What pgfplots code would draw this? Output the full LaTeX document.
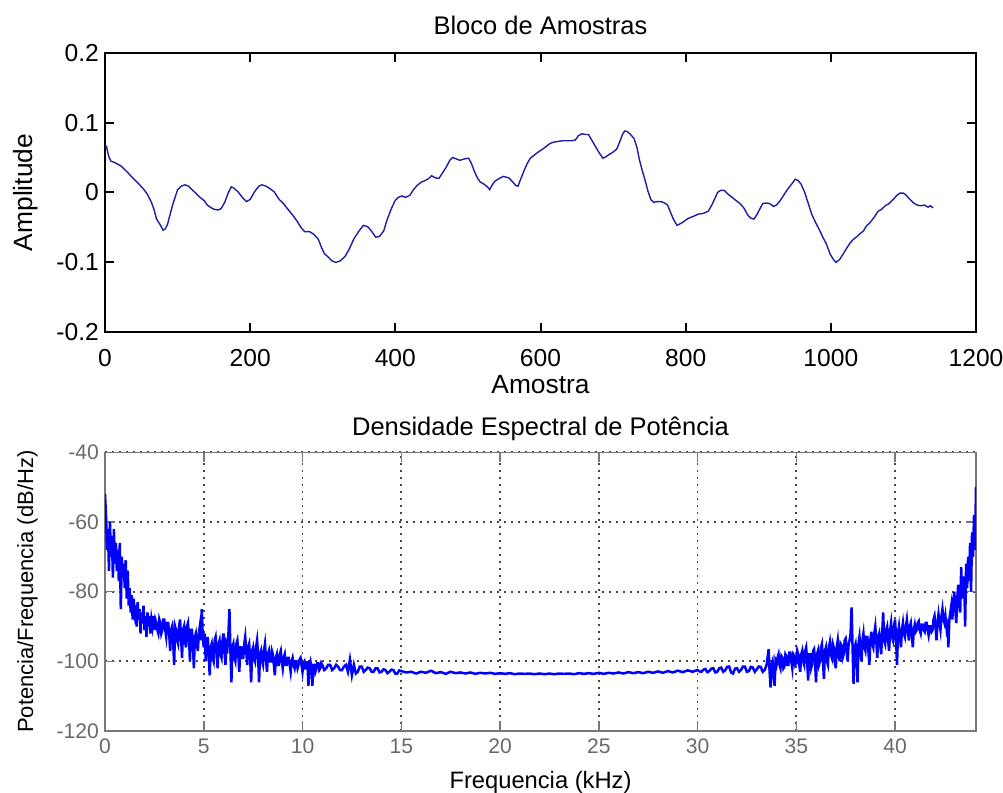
\documentclass[border=0pt]{standalone}
\usepackage{pgfplots}
\pgfplotsset{compat=1.18}
\usepackage{fontspec}
\setmainfont{Liberation Sans}
\definecolor{topblue}{RGB}{30,30,165}
\definecolor{psdblue}{RGB}{0,0,255}
\definecolor{axgray}{RGB}{120,120,120}
\definecolor{lblgray}{RGB}{105,105,105}
\definecolor{gridgray}{RGB}{70,70,70}

\pgfplotstableread{
x y
0 0.065
2 0.066
5 0.052
8 0.045
15 0.042
22 0.038
30 0.030
37 0.022
45 0.014
53 0.005
58 -0.002
64 -0.014
68 -0.026
71 -0.038
76 -0.046
80 -0.054
83 -0.052
86 -0.046
90 -0.030
94 -0.015
100 0.004
105 0.009
110 0.011
115 0.009
120 0.004
126 -0.002
131 -0.007
137 -0.012
141 -0.018
145 -0.021
150 -0.024
156 -0.025
160 -0.023
165 -0.014
170 0.000
174 0.008
178 0.006
184 0.000
190 -0.008
195 -0.013
200 -0.010
206 0.001
212 0.009
216 0.011
222 0.009
228 0.005
233 0.001
240 -0.010
246 -0.016
252 -0.024
259 -0.033
264 -0.040
270 -0.050
275 -0.056
282 -0.056
288 -0.060
294 -0.067
298 -0.078
302 -0.087
308 -0.093
313 -0.098
318 -0.100
324 -0.098
331 -0.091
337 -0.080
343 -0.066
350 -0.055
356 -0.047
362 -0.049
367 -0.055
373 -0.064
378 -0.063
384 -0.055
389 -0.038
395 -0.022
400 -0.011
404 -0.007
409 -0.005
414 -0.007
420 -0.004
425 0.004
430 0.010
436 0.015
441 0.017
446 0.020
450 0.024
455 0.021
460 0.020
465 0.028
470 0.036
475 0.046
479 0.050
484 0.048
489 0.046
495 0.048
501 0.049
505 0.041
509 0.030
513 0.021
517 0.015
522 0.012
527 0.008
530 0.004
533 0.010
537 0.016
543 0.020
549 0.023
556 0.021
561 0.016
566 0.010
569 0.009
573 0.020
578 0.033
582 0.042
586 0.049
592 0.054
597 0.058
603 0.062
608 0.066
613 0.070
618 0.072
624 0.073
630 0.074
636 0.074
642 0.074
648 0.075
652 0.081
657 0.084
662 0.083
666 0.083
670 0.076
675 0.067
680 0.058
686 0.049
690 0.051
694 0.054
699 0.057
705 0.062
709 0.072
713 0.083
716 0.088
720 0.087
724 0.083
729 0.077
733 0.064
736 0.048
740 0.032
744 0.018
748 0.002
752 -0.010
756 -0.014
761 -0.013
766 -0.013
771 -0.015
775 -0.018
779 -0.028
783 -0.038
788 -0.047
792 -0.045
797 -0.042
802 -0.038
806 -0.036
811 -0.034
817 -0.031
824 -0.030
831 -0.027
836 -0.018
840 -0.009
844 0.000
848 0.003
853 0.003
858 -0.002
864 -0.007
870 -0.012
875 -0.016
880 -0.022
886 -0.033
890 -0.037
894 -0.038
898 -0.032
902 -0.024
906 -0.016
911 -0.015
916 -0.016
921 -0.020
925 -0.018
930 -0.012
935 -0.004
940 0.004
946 0.012
951 0.019
955 0.017
959 0.012
964 0.000
969 -0.016
974 -0.032
979 -0.043
984 -0.053
989 -0.064
994 -0.074
999 -0.088
1003 -0.095
1007 -0.100
1012 -0.096
1017 -0.088
1021 -0.081
1026 -0.073
1031 -0.067
1036 -0.063
1040 -0.059
1045 -0.055
1049 -0.048
1054 -0.043
1060 -0.035
1065 -0.027
1070 -0.024
1075 -0.019
1080 -0.016
1086 -0.010
1091 -0.004
1095 -0.001
1100 -0.001
1104 -0.004
1109 -0.010
1114 -0.015
1119 -0.018
1124 -0.019
1129 -0.018
1134 -0.021
1137 -0.019
1141 -0.022
}\amostras

\pgfplotstableread{
x y
0.00 -52
0.05 -58
0.10 -68
0.15 -62
0.20 -74
0.25 -60
0.30 -70
0.35 -64
0.40 -76
0.45 -62
0.50 -72
0.55 -66
0.60 -74
0.65 -68
0.70 -77
0.75 -66
0.80 -85
0.85 -70
0.90 -76
0.95 -72
1.00 -79
1.05 -71
1.10 -82
1.15 -74
1.20 -84
1.25 -79
1.30 -86
1.35 -81
1.40 -88
1.45 -82
1.50 -86
1.55 -84
1.60 -90
1.65 -83
1.70 -88
1.75 -85
1.80 -92
1.85 -86
1.90 -89
1.95 -84
2.00 -91
2.05 -87
2.10 -93
2.15 -86
2.20 -90
2.25 -87
2.30 -92
2.35 -88
2.40 -90
2.45 -87
2.50 -91
2.55 -88
2.60 -89
2.65 -91
2.70 -92
2.75 -88
2.80 -89
2.85 -92
2.90 -91
2.95 -88
3.00 -88
3.05 -91
3.10 -93
3.15 -89
3.20 -89
3.25 -92
3.30 -97
3.35 -91
3.40 -90
3.45 -94
3.50 -101
3.55 -90
3.60 -91
3.65 -94
3.70 -95
3.75 -90
3.80 -88
3.85 -93
3.90 -99
3.95 -91
4.00 -90
4.05 -94
4.10 -96
4.15 -90
4.20 -89
4.25 -93
4.30 -100
4.35 -91
4.40 -91
4.45 -95
4.50 -102
4.55 -93
4.60 -92
4.65 -95
4.70 -97
4.75 -92
4.80 -90
4.85 -94
4.90 -85
4.95 -93
5.00 -96
5.05 -92
5.10 -100
5.15 -95
5.20 -93
5.25 -98
5.30 -104
5.35 -96
5.40 -95
5.45 -99
5.50 -100
5.55 -94
5.60 -93
5.65 -97
5.70 -102
5.75 -95
5.80 -94
5.85 -98
5.90 -99
5.95 -94
6.00 -92
6.05 -97
6.10 -101
6.15 -95
6.20 -96
6.25 -92
6.30 -85
6.35 -97
6.40 -106
6.45 -96
6.50 -95
6.55 -99
6.60 -100
6.65 -95
6.70 -94
6.75 -98
6.80 -103
6.85 -96
6.90 -96
6.95 -99
7.00 -99
7.05 -95
7.10 -93
7.15 -97
7.20 -101
7.25 -96
7.30 -95
7.35 -99
7.40 -106
7.45 -97
7.50 -96
7.55 -99
7.60 -100
7.65 -96
7.70 -94
7.75 -98
7.80 -106
7.85 -98
7.90 -97
7.95 -100
8.00 -101
8.05 -97
8.10 -95
8.15 -99
8.20 -103
8.25 -98
8.30 -97
8.35 -100
8.40 -100
8.45 -97
8.50 -98
8.55 -101
8.60 -104
8.65 -99
8.70 -98
8.75 -101
8.80 -101
8.85 -98
8.90 -97
8.95 -100
9.00 -102
9.05 -99
9.10 -98
9.15 -101
9.20 -101
9.25 -99
9.30 -99
9.35 -101
9.40 -103
9.45 -100
9.50 -99
9.55 -101
9.60 -102
9.65 -100
9.70 -100
9.75 -102
9.80 -101
9.85 -99.5
9.90 -99
9.95 -101
10.00 -103
10.05 -100.5
10.10 -100
10.15 -102
10.20 -102
10.25 -100
10.30 -107
10.35 -101
10.40 -100
10.45 -102
10.50 -107
10.55 -101
10.60 -101
10.65 -103
10.70 -102
10.75 -100.5
10.80 -100.5
10.85 -102.5
10.90 -102
10.95 -100.5
11.00 -101
11.10 -102.5
11.20 -102
11.30 -101
11.40 -101
11.50 -102.5
11.60 -102
11.70 -101
11.80 -101.5
11.90 -102.5
12.00 -102.5
12.10 -101.5
12.20 -101
12.30 -103
12.40 -99.5
12.50 -104
12.60 -101
12.70 -103.5
12.80 -103
12.90 -101.5
13.00 -101.5
13.10 -103
13.20 -102.5
13.30 -101.8
13.40 -102
13.50 -103
13.60 -103
13.70 -102
13.80 -102
13.90 -103.2
14.00 -103
14.10 -102.3
14.20 -102.5
14.30 -103.4
14.40 -103
14.50 -102.4
14.60 -102.5
14.70 -103.5
14.80 -103.5
14.90 -102.6
15.00 -102.8
15.25 -103.2
15.50 -103
15.75 -103.5
16.00 -103
16.25 -103.3
16.50 -102.7
16.75 -103.4
17.00 -103.1
17.25 -103.6
17.50 -103
17.75 -103.4
18.00 -103.2
18.25 -103.5
18.50 -103.2
18.75 -103.6
19.00 -103.3
19.25 -103.5
19.50 -103.3
19.75 -103.6
20.00 -103.4
20.25 -103.6
20.50 -103.4
20.75 -103.7
21.00 -103.5
21.25 -103.6
21.50 -103.5
21.75 -103.7
22.00 -103.5
22.25 -103.7
22.50 -103.5
22.75 -103.7
23.00 -103.5
23.25 -103.6
23.50 -103.5
23.75 -103.7
24.00 -103.4
24.25 -103.6
24.50 -103.4
24.75 -103.6
25.00 -103.3
25.25 -103.6
25.50 -103.3
25.75 -103.5
26.00 -103.2
26.25 -103.5
26.50 -103.1
26.75 -103.4
27.00 -103.1
27.25 -103.4
27.50 -103
27.75 -103.3
28.00 -102.9
28.25 -103.3
28.50 -102.8
28.75 -103.2
29.00 -102.7
29.25 -103.1
29.50 -102.6
29.75 -103
30.00 -102.5
30.10 -102.9
30.20 -103
30.30 -102.4
30.40 -102.2
30.50 -103.1
30.60 -102.8
30.70 -102.1
30.80 -102
30.90 -103.2
31.00 -103
31.10 -102
31.20 -101.8
31.30 -103
31.40 -102.6
31.50 -101.6
31.60 -101.5
31.70 -103.2
31.80 -103.5
31.90 -102.1
32.00 -102
32.10 -103
32.20 -102.5
32.30 -101.5
32.40 -101.5
32.50 -103
32.60 -102.8
32.70 -101.6
32.80 -101.8
32.90 -103
33.00 -102.3
33.10 -101.5
33.20 -101.6
33.30 -103
33.40 -102.5
33.50 -101
33.60 -96.5
33.65 -103
33.70 -107.5
33.75 -101
33.80 -100
33.85 -104
33.90 -107
33.95 -100
34.00 -101
34.05 -99
34.10 -98
34.15 -101
34.20 -102
34.25 -98.5
34.30 -99
34.35 -102
34.40 -101.5
34.45 -98
34.50 -98.5
34.55 -101
34.60 -101
34.65 -97.5
34.70 -97.5
34.75 -100
34.80 -102
34.85 -98
34.90 -98.5
34.95 -101
35.00 -100.5
35.05 -97
35.10 -98
35.15 -101
35.20 -103
35.25 -98
35.30 -97
35.35 -100
35.40 -101
35.45 -97
35.50 -96
35.55 -100
35.60 -105.5
35.65 -98
35.70 -98
35.75 -102
35.80 -101
35.85 -97
35.90 -96.5
35.95 -100
36.00 -106
36.05 -98
36.10 -97
36.15 -101
36.20 -100
36.25 -96
36.30 -95
36.35 -100
36.40 -105
36.45 -97
36.50 -96
36.55 -100
36.60 -101
36.65 -96
36.70 -94.5
36.75 -98
36.80 -99
36.85 -95
36.90 -96
36.95 -100
37.00 -102
37.05 -96
37.10 -94
37.15 -98
37.20 -100
37.25 -95
37.30 -95.5
37.35 -99
37.40 -98
37.45 -94
37.50 -93.5
37.55 -97
37.60 -100
37.65 -95
37.70 -94
37.75 -92
37.80 -84.5
37.85 -96
37.90 -106.5
37.95 -96
38.00 -95
38.05 -99
38.10 -106
38.15 -95
38.20 -93
38.25 -97
38.30 -100
38.35 -94
38.40 -92
38.45 -96
38.50 -97
38.55 -93
38.60 -93
38.65 -97
38.70 -101
38.75 -94
38.80 -91.5
38.85 -95
38.90 -96
38.95 -92
39.00 -90
39.05 -94
39.10 -99
39.15 -93
39.20 -92
39.25 -95
39.30 -98
39.35 -92
39.40 -86
39.45 -94
39.50 -95
39.55 -91
39.60 -90
39.65 -94
39.70 -97
39.75 -91
39.80 -89
39.85 -93
39.90 -94
39.95 -90
40.00 -88
40.05 -93
40.10 -101
40.15 -92
40.20 -90
40.25 -93
40.30 -96
40.35 -91
40.40 -89
40.45 -92
40.50 -93
40.55 -90
40.60 -88
40.65 -91
40.70 -94
40.75 -90
40.80 -89
40.85 -92
40.90 -96
40.95 -91
41.00 -89.5
41.05 -91.5
41.10 -91
41.15 -89
41.20 -88.5
41.25 -91
41.30 -92
41.35 -89.5
41.40 -89.5
41.45 -91
41.50 -91.5
41.55 -89
41.60 -89
41.65 -91
41.70 -92.5
41.75 -90
41.80 -90
41.85 -91.5
41.90 -91
41.95 -88
42.00 -87
42.05 -90
42.10 -94
42.15 -89
42.20 -86.5
42.25 -89
42.30 -91
42.35 -87
42.40 -85
42.45 -88
42.50 -89
42.55 -87
42.60 -90
42.65 -88
42.70 -96
42.75 -88
42.80 -86
42.85 -84
42.90 -88
42.95 -83
43.00 -80
43.05 -85
43.10 -89
43.15 -82
43.20 -78
43.25 -83
43.30 -86
43.35 -73
43.40 -82
43.45 -76
43.50 -76
43.55 -90
43.60 -72
43.65 -79
43.70 -70
43.75 -77
43.80 -66
43.85 -80
43.90 -63
43.95 -70
44.00 -58
44.05 -68
44.10 -50
}\psd

\begin{document}
\begin{tikzpicture}
\path[use as bounding box] (0,0) rectangle (200.6mm,158.6mm);

\begin{axis}[
  at={(21mm,92.14mm)}, anchor=south west,
  scale only axis, width=174.2mm, height=55.92mm,
  xmin=0, xmax=1200, ymin=-0.2, ymax=0.2,
  xtick={0,200,400,600,800,1000,1200},
  xticklabels={0,200,400,600,800,1000,1200},
  ytick={-0.2,-0.1,0,0.1,0.2},
  yticklabels={-0.2,-0.1,0,0.1,0.2},
  tick align=inside, tick pos=both,
  major tick length=1.8mm,
  axis line style={line width=0.4mm, black},
  every tick/.style={line width=0.4mm, black},
  ticklabel style={font=\fontsize{14}{17}\selectfont},
  xticklabel style={yshift=-2.2mm},
  title={Bloco de Amostras},
  title style={font=\fontsize{14.5}{17}\selectfont, at={(axis description cs:0.5,1)}, anchor=base, yshift=1.6mm},
  xlabel={Amostra},
  xlabel style={font=\fontsize{15}{18}\selectfont, at={(axis description cs:0.5,0)}, anchor=base, yshift=-12.3mm},
  ylabel={Amplitude},
  ylabel style={font=\fontsize{15}{18}\selectfont, at={([xshift=-15.8mm]axis description cs:0,0.5)}, anchor=center},
]
\addplot[topblue, line width=0.28mm] table[x=x,y=y] {\amostras};
\end{axis}

\begin{axis}[
  at={(21mm,12.4mm)}, anchor=south west,
  scale only axis, width=174.2mm, height=55.74mm,
  xmin=0, xmax=44.1, ymin=-120, ymax=-40,
  xtick={0,5,10,15,20,25,30,35,40},
  xticklabels={0,5,10,15,20,25,30,35,40},
  ytick={-120,-100,-80,-60,-40},
  yticklabels={-120,-100,-80,-60,-40},
  tick align=inside, tick pos=both,
  major tick length=2mm,
  axis line style={line width=0.3mm, axgray},
  every tick/.style={line width=0.3mm, axgray},
  grid=major,
  major grid style={gridgray, line width=0.35mm, dash pattern=on 0.35mm off 1.05mm},
  ticklabel style={font=\fontsize{12}{14}\selectfont, text=lblgray},
  xticklabel style={yshift=-0.4mm},
  title={Densidade Espectral de Potência},
  title style={font=\fontsize{14.5}{17}\selectfont, at={(axis description cs:0.5,1)}, anchor=base, yshift=1.2mm},
  xlabel={Frequencia (kHz)},
  xlabel style={font=\fontsize{13.5}{16}\selectfont, at={(axis description cs:0.5,0)}, anchor=base, yshift=-11.6mm},
  ylabel={Potencia/Frequencia (dB/Hz)},
  ylabel style={font=\fontsize{12.5}{15}\selectfont, at={([xshift=-15.5mm]axis description cs:0,0.5)}, anchor=center},
]
\addplot[psdblue, line width=0.5mm] table[x=x,y=y] {\psd};
\end{axis}
\end{tikzpicture}
\end{document}
